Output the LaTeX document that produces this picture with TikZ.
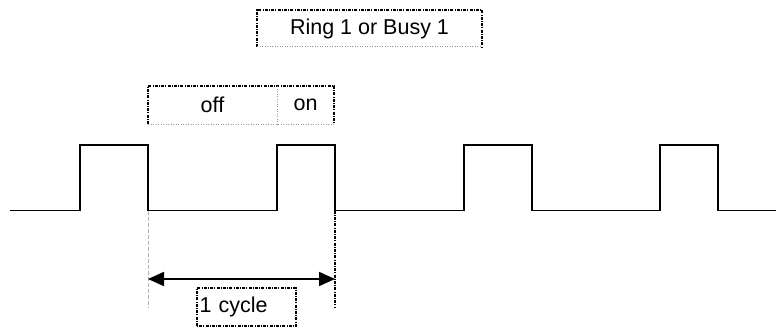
\documentclass[tikz,border=0pt]{standalone}
\usepackage{fontspec}
\setmainfont{Liberation Sans}
\usetikzlibrary{arrows.meta}
\begin{document}
\begin{tikzpicture}[x=1pt,y=-1pt,
  wave/.style={line width=1.7pt, line join=miter},
  boxedge/.style={line width=1.1pt, dash pattern=on 3pt off 1.2pt on 1pt off 1.2pt},
  lowedge/.style={line width=1pt, black!40, dash pattern=on 1pt off 1.5pt},
  greyguide/.style={line width=0.9pt, black!30, dash pattern=on 4pt off 2pt},
  blackguide/.style={line width=1.1pt, dash pattern=on 3pt off 1.2pt on 1pt off 1.2pt},
  lbl/.style={font=\fontsize{21.5}{25}\selectfont, inner sep=0pt, outer sep=0pt},
  cyclearrow/.style={line width=1.7pt, {Triangle[length=16pt,width=14pt]}-{Triangle[length=16pt,width=14pt]}}]
\useasboundingbox (0,0) rectangle (776,329);

% title box
\node[lbl, minimum width=225pt, minimum height=37pt] (title) at (369.5,28.5) {Ring 1 or Busy 1};
\draw[boxedge] (title.south west) -- (title.north west) -- (title.north east) -- (title.south east);
\draw[lowedge] (title.south west) -- (title.south east);

% off / on boxes
\node[lbl, minimum width=129pt, minimum height=38pt] (off) at (212.5,105) {off};
\node[lbl, minimum width=57pt, minimum height=38pt, anchor=west] (on) at (off.east) {on};
\draw[boxedge] (off.south west) -- (off.north west) -- (on.north east) -- (on.south east);
\draw[lowedge] (off.south west) -- (on.south east);
\draw[lowedge] (off.north east) -- (off.south east);

% waveform
\coordinate (w0) at (10,210.5);
\coordinate (p1a) at (80,210.5);
\coordinate (p1b) at (80,144.7);
\coordinate (p1c) at (148,144.7);
\coordinate (p1d) at (148,210.5);
\coordinate (p2a) at (277,210.5);
\coordinate (p2b) at (277,144.7);
\coordinate (p2c) at (335,144.7);
\coordinate (p2d) at (335,210.5);
\coordinate (p3a) at (464,210.5);
\coordinate (p3b) at (464,144.7);
\coordinate (p3c) at (532,144.7);
\coordinate (p3d) at (532,210.5);
\coordinate (p4a) at (660,210.5);
\coordinate (p4b) at (660,144.7);
\coordinate (p4c) at (718,144.7);
\coordinate (p4d) at (718,210.5);
\coordinate (w1) at (776,210.5);
\draw[wave] (w0) -- (p1a) -- (p1b) -- (p1c) -- (p1d) -- (p2a) -- (p2b) -- (p2c) -- (p2d)
  -- (p3a) -- (p3b) -- (p3c) -- (p3d) -- (p4a) -- (p4b) -- (p4c) -- (p4d) -- (w1);

% guides
\coordinate (g1) at (148,307);
\coordinate (g2) at (335,307);
\draw[greyguide] (p1d) -- (g1);
\draw[blackguide] (p2d) -- (g2);

% cycle arrow
\coordinate (a1) at (148,279);
\coordinate (a2) at (335,279);
\draw[cyclearrow] (a1) -- (a2);

% cycle label
\node[lbl, minimum width=99pt, minimum height=38pt, text width=94pt, align=left] (cyc) at (246.5,307) {1 cycle};
\draw[boxedge] (cyc.south west) rectangle (cyc.north east);
\end{tikzpicture}
\end{document}
